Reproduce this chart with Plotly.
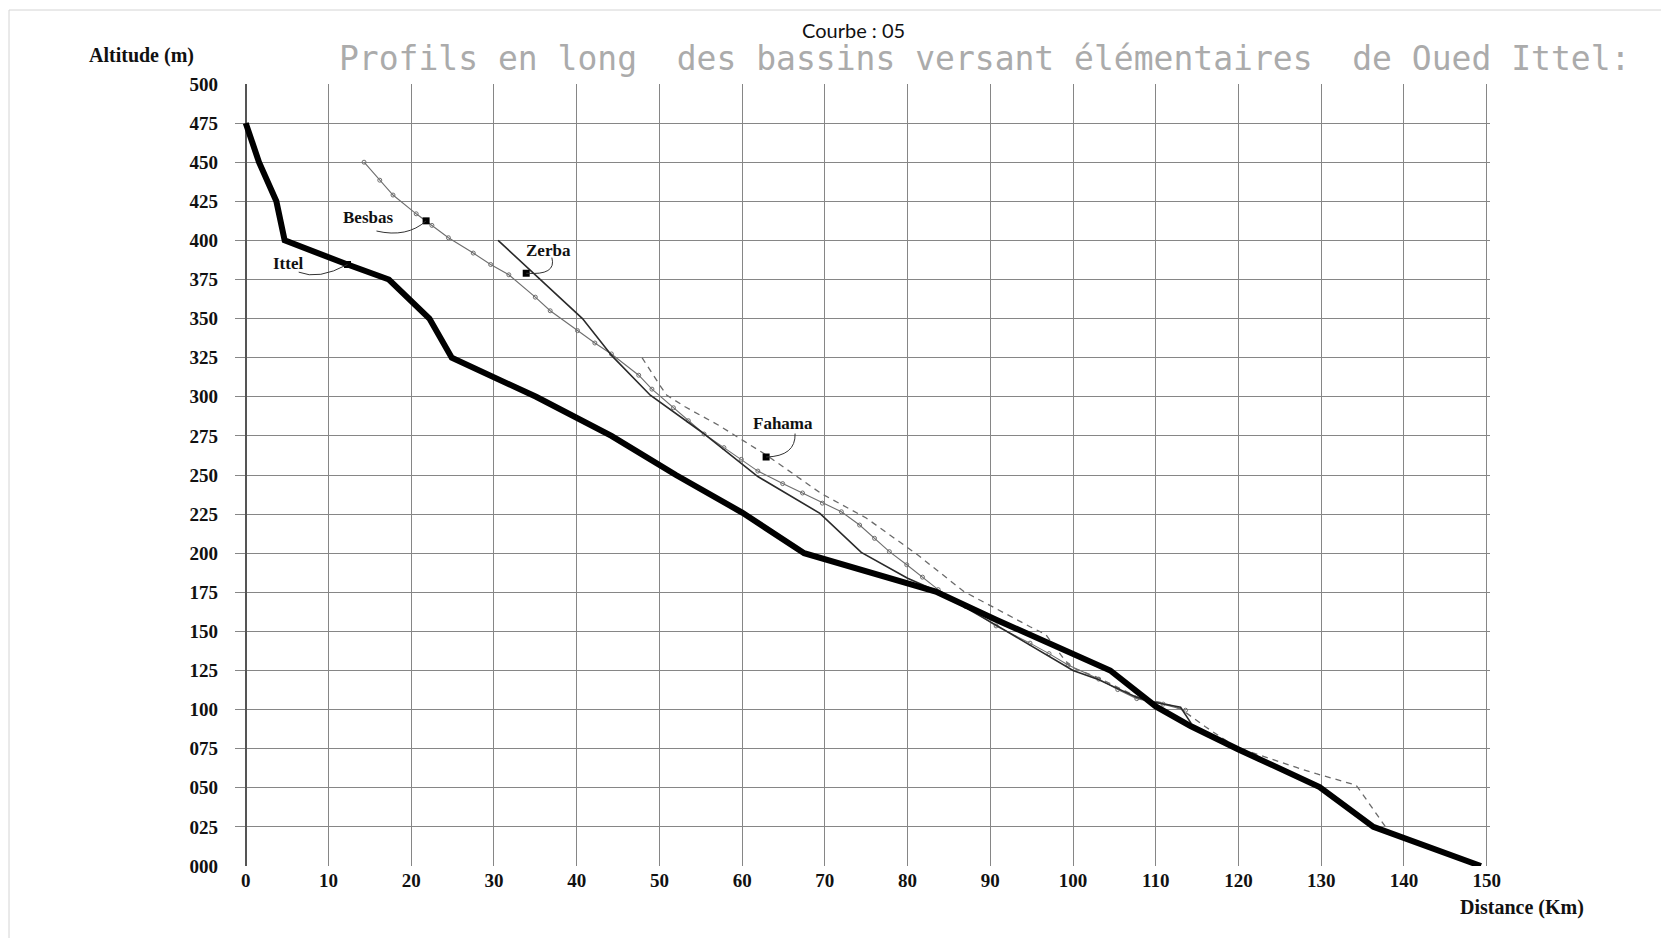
import plotly.graph_objects as go

# ---------------- data (km, m) ----------------
ittel_x = [0, 1.6, 3.7, 4.7, 12.3, 17.3, 22.2, 24.9, 35.1, 44.2, 52.0, 60.0, 67.5, 83.4, 90.7, 104.5, 110.0, 114.2, 120.0, 129.8, 136.3, 149.3]
ittel_y = [475, 450, 425, 400, 384.6, 375, 350, 325, 300, 275, 250, 226, 200, 175.5, 157.5, 125, 102, 89.5, 74.5, 50.5, 25, 0]

besbas_x = [14.3, 16.2, 17.8, 20.6, 22.5, 24.5, 27.5, 29.6, 31.8, 35.0, 36.8, 40.1, 42.2, 44.2, 47.5, 49.1, 51.7, 53.5, 55.4, 57.8, 59.9, 61.9, 64.9, 67.3, 69.7, 72.0, 74.2, 76.0, 77.8, 79.9, 81.8, 83.7, 87.0, 90.7, 94.8, 97.1, 99.4, 103.1, 105.4, 107.7, 110.9, 113.6]
besbas_y = [450, 438.5, 429, 417, 409.6, 401.7, 391.9, 384.6, 378, 363.7, 355, 342.3, 334.4, 327.4, 313.8, 304.9, 293, 284.7, 276.2, 267.5, 260, 252.5, 244.5, 238.5, 232, 226.5, 218, 209.5, 201, 192.6, 184.7, 176.7, 166, 153.5, 142.5, 135.8, 128.5, 119.5, 112.8, 107, 103.5, 99.6]

zerba_x = [30.5, 40.7, 44.3, 48.9, 55.1, 61.9, 69.4, 74.4, 80.0, 83.5, 90.7, 94.8, 100.0, 102.8, 107.6, 110.0, 113.0, 114.3]
zerba_y = [400, 350, 326, 301, 277.5, 249, 225.5, 200.5, 184, 175.8, 154, 141, 125, 119.8, 108, 104.5, 101.5, 91]

fahama_x = [47.9, 49.1, 50.1, 50.9, 53.1, 57.1, 60.3, 63.0, 69.6, 75.0, 81.2, 86.8, 94.8, 96.7, 98.8, 99.8, 103.0, 107.8, 111.0, 113.0, 116.0, 119.7, 127.0, 129.4, 134.2, 134.8, 137.9]
fahama_y = [325, 315, 307, 301, 293.6, 282, 271.4, 262.5, 238, 222.5, 199, 175.5, 153, 148, 133, 127, 120.5, 108, 104, 100.5, 89, 76, 63, 59, 51.7, 47.5, 24]

# labels: name, label position, marker position (data coords)
label_names = ["Ittel", "Besbas", "Zerba", "Fahama"]
label_x = [5.1, 14.8, 36.6, 65.0]
label_y = [385.5, 414.5, 393.5, 283]
marker_x = [12.3, 21.8, 33.9, 62.9]
marker_y = [384.6, 412.5, 379, 261.5]
leader_start_x = [6.4, 15.8, 37.0, 66.4]
leader_start_y = [379.7, 406, 389, 276.5]
leader_ctrl_x = [8.8, 19.5, 37.6, 66.5]
leader_ctrl_y = [374.5, 401.5, 377.5, 262]

x_ticks = list(range(0, 151, 10))
x_ticktext = [str(v) for v in x_ticks]
y_ticks = list(range(0, 501, 25))
y_ticktext = [f"{v:03d}" for v in y_ticks]

SERIF = "Liberation Serif, Times New Roman, serif"

fig = go.Figure()

fig.add_trace(go.Scatter(x=fahama_x, y=fahama_y, mode="lines", name="Fahama",
                         line=dict(color="#6a6a6a", width=1.3, dash="6px,5px")))
fig.add_trace(go.Scatter(x=besbas_x, y=besbas_y, mode="lines+markers", name="Besbas",
                         line=dict(color="#6e6e6e", width=1.1),
                         marker=dict(symbol="circle-open", size=4, color="#6e6e6e", line=dict(width=1))))
fig.add_trace(go.Scatter(x=zerba_x, y=zerba_y, mode="lines", name="Zerba",
                         line=dict(color="#2a2a2a", width=1.6)))
fig.add_trace(go.Scatter(x=ittel_x, y=ittel_y, mode="lines", name="Ittel",
                         line=dict(color="#000000", width=6)))
fig.add_trace(go.Scatter(x=marker_x, y=marker_y, mode="markers", name="repères",
                         marker=dict(symbol="square", size=7, color="#000000")))

shapes = []
for sx, sy, cx, cy, mx, my in zip(leader_start_x, leader_start_y, leader_ctrl_x, leader_ctrl_y, marker_x, marker_y):
    shapes.append(dict(type="path", xref="x", yref="y",
                       path=f"M {sx},{sy} Q {cx},{cy} {mx},{my}",
                       line=dict(color="#333333", width=1)))

# outer frame of the picture
px = lambda p: (p - 235) / 1255
py = lambda p: (866 - p) / 782
shapes.append(dict(type="line", xref="paper", yref="paper", x0=px(9), x1=px(1661), y0=py(10), y1=py(10),
                   line=dict(color="#d4d4d4", width=1)))
shapes.append(dict(type="line", xref="paper", yref="paper", x0=px(9), x1=px(9), y0=py(10), y1=py(938),
                   line=dict(color="#d4d4d4", width=1)))

annotations = []
for name, lx, ly in zip(label_names, label_x, label_y):
    annotations.append(dict(x=lx, y=ly, xref="x", yref="y", text=name, showarrow=False,
                            font=dict(family=SERIF, size=17, color="#111111", weight="bold")))

annotations += [
    dict(x=px(141), y=py(55), xref="paper", yref="paper", xanchor="center", yanchor="middle",
         text="Altitude (m)", showarrow=False,
         font=dict(family=SERIF, size=20, color="#111111", weight="bold")),
    dict(x=px(1522), y=py(908), xref="paper", yref="paper", xanchor="center", yanchor="middle",
         text="Distance (Km)", showarrow=False,
         font=dict(family=SERIF, size=20, color="#111111", weight="bold")),
    dict(x=px(853), y=py(30), xref="paper", yref="paper", xanchor="center", yanchor="middle",
         text="Courbe : 05", showarrow=False,
         font=dict(family="Lato, Open Sans, sans-serif", size=20, color="#111111")),
    dict(x=px(337), y=py(59), xref="paper", yref="paper", xanchor="left", yanchor="middle",
         text="Profils en long  des bassins versant élémentaires  de Oued Ittel:", showarrow=False,
         font=dict(family="DejaVu Sans Mono, Liberation Mono, monospace", size=33, color="#ababab")),
]

fig.update_layout(
    width=1661, height=938,
    margin=dict(l=235, r=171, t=84, b=72),
    paper_bgcolor="white", plot_bgcolor="white",
    showlegend=False,
    shapes=shapes, annotations=annotations,
    xaxis=dict(range=[-1.3, 150.4], tickmode="array", tickvals=x_ticks, ticktext=x_ticktext,
               showgrid=True, gridcolor="#868686", gridwidth=1, zeroline=True, zerolinecolor="#555555",
               zerolinewidth=1.5, showline=False, ticks="", ticklabelstandoff=1,
               tickfont=dict(family=SERIF, size=19, color="#111111", weight="bold")),
    yaxis=dict(range=[0, 500], tickmode="array", tickvals=y_ticks, ticktext=y_ticktext,
               showgrid=True, gridcolor="#868686", gridwidth=1, zeroline=False, showline=False,
               ticks="", ticklabelstandoff=16,
               tickfont=dict(family=SERIF, size=19, color="#111111", weight="bold")),
)

fig.write_html("out.html")
